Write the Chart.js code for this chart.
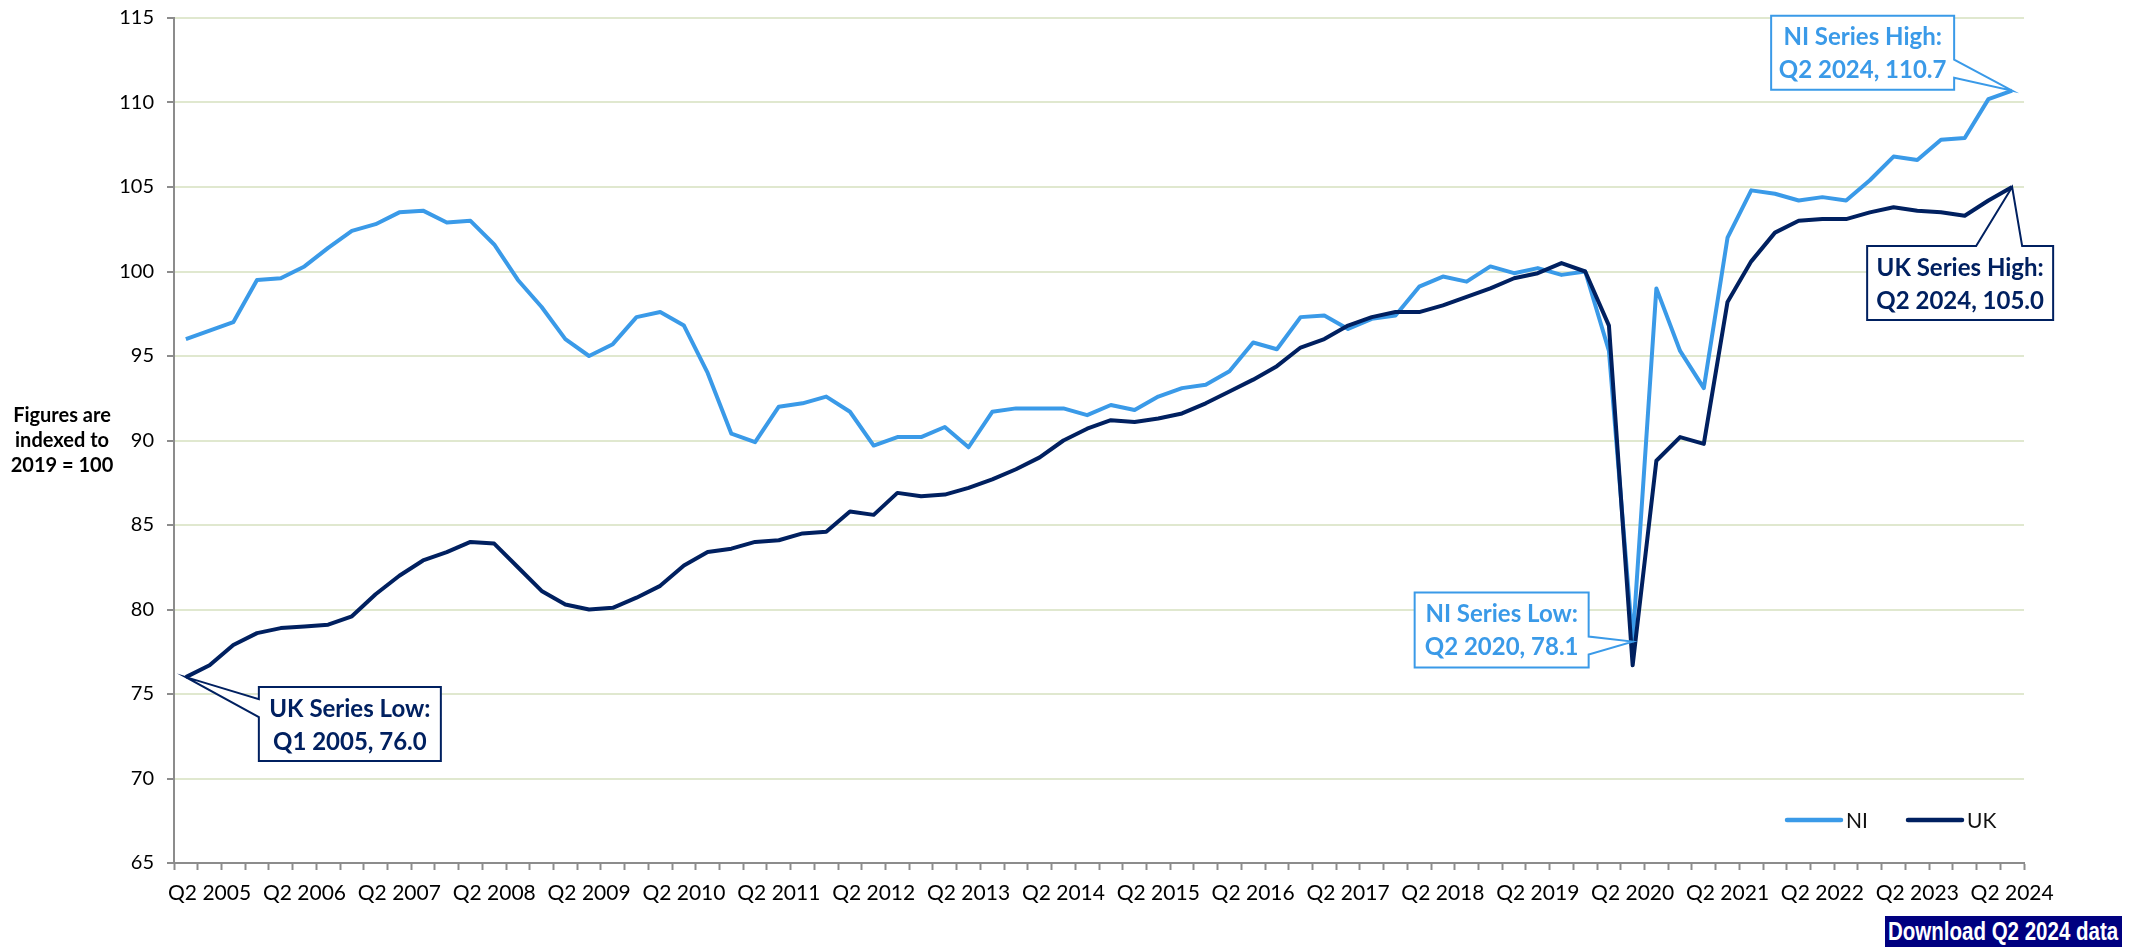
<!DOCTYPE html>
<html>
<head>
<meta charset="utf-8">
<script src="https://cdn.jsdelivr.net/npm/chart.js@4.4.1/dist/chart.umd.min.js"></script>
<style>
    html, body { margin: 0; padding: 0; background: #fff; }
    #wrap { position: relative; width: 2137px; height: 947px; overflow: hidden; }
    #download {
        position: absolute; left: 1885px; top: 916px; width: 237px; height: 31px;
        background: #000080; color: #fff; white-space: nowrap; overflow: hidden;
        font: bold 25px 'Liberation Sans', Arial, sans-serif;
        line-height: 31px;
    }
    #download span {
        display: inline-block; transform: scaleX(0.82); transform-origin: 0 50%;
        margin-left: 3px;
    }
</style>
</head>
<body>
<div id="wrap">
    <canvas id="myChart" width="2137" height="947"></canvas>
    <div id="download"><span>Download Q2 2024 data</span></div>
</div>
<script>
// quarters Q1 2005 .. Q2 2024
const years = [2005, 2006, 2007, 2008, 2009, 2010, 2011, 2012, 2013, 2014,
               2015, 2016, 2017, 2018, 2019, 2020, 2021, 2022, 2023, 2024];
const quarterNames = ['Q1', 'Q2', 'Q3', 'Q4'];

// index, 2019 = 100
const niValues = [
    96.0, 96.5, 97.0, 99.5, 99.6, 100.3, 101.4, 102.4, 102.8, 103.5,
    103.6, 102.9, 103.0, 101.6, 99.5, 97.9, 96.0, 95.0, 95.7, 97.3,
    97.6, 96.8, 94.0, 90.4, 89.9, 92.0, 92.2, 92.6, 91.7, 89.7,
    90.2, 90.2, 90.8, 89.6, 91.7, 91.9, 91.9, 91.9, 91.5, 92.1,
    91.8, 92.6, 93.1, 93.3, 94.1, 95.8, 95.4, 97.3, 97.4, 96.6,
    97.2, 97.4, 99.1, 99.7, 99.4, 100.3, 99.9, 100.2, 99.8, 100.0,
    95.3, 78.1, 99.0, 95.3, 93.1, 102.0, 104.8, 104.6, 104.2, 104.4,
    104.2, 105.4, 106.8, 106.6, 107.8, 107.9, 110.2, 110.7
];
const ukValues = [
    76.0, 76.7, 77.9, 78.6, 78.9, 79.0, 79.1, 79.6, 80.9, 82.0,
    82.9, 83.4, 84.0, 83.9, 82.5, 81.1, 80.3, 80.0, 80.1, 80.7,
    81.4, 82.6, 83.4, 83.6, 84.0, 84.1, 84.5, 84.6, 85.8, 85.6,
    86.9, 86.7, 86.8, 87.2, 87.7, 88.3, 89.0, 90.0, 90.7, 91.2,
    91.1, 91.3, 91.6, 92.2, 92.9, 93.6, 94.4, 95.5, 96.0, 96.8,
    97.3, 97.6, 97.6, 98.0, 98.5, 99.0, 99.6, 99.9, 100.5, 100.0,
    96.8, 76.7, 88.8, 90.2, 89.8, 98.2, 100.6, 102.3, 103.0, 103.1,
    103.1, 103.5, 103.8, 103.6, 103.5, 103.3, 104.2, 105.0
];
const seriesNames = ['NI', 'UK'];
const seriesColors = ['#3a9ae8', '#002060'];
const yTitle = ['Figures are', 'indexed to', '2019 = 100'];

const labels = [];
for (const y of years) {
    for (const q of quarterNames) {
        if (labels.length < niValues.length) labels.push(q + ' ' + y);
    }
}

const FONT = 'Lato, "Open Sans", sans-serif';

// callout boxes: offsets from the marked point, and where the pointer leaves the box
const callouts = [
    { ds: 0, pick: 'max', title: 'NI Series High:', box: [-241, -75, 183, 74], edge: 'right', base: [44, 62] },
    { ds: 1, pick: 'max', title: 'UK Series High:', box: [-145, 59, 186, 74], edge: 'top', base: [109, 155] },
    { ds: 0, pick: 'min', title: 'NI Series Low:', box: [-218, -49, 174, 75], edge: 'right', base: [44, 62] },
    { ds: 1, pick: 'min', title: 'UK Series Low:', box: [73, 10, 182, 74], edge: 'left', base: [12, 30] }
];

const extrasPlugin = {
    id: 'extras',
    afterDatasetsDraw(chart) {
        const ctx = chart.ctx;
        const area = chart.chartArea;
        const xs = chart.scales.x, ys = chart.scales.y;

        // callouts
        for (const c of callouts) {
            const data = chart.data.datasets[c.ds].data;
            const v = c.pick === 'max' ? Math.max(...data) : Math.min(...data);
            const i = data.indexOf(v);
            const tx = xs.getPixelForValue(i), ty = ys.getPixelForValue(v);
            const [dx, dy, w, h] = c.box;
            const x = tx + dx, y = ty + dy;
            const color = seriesColors[c.ds];
            ctx.save();
            ctx.beginPath();
            if (c.edge === 'right') {
                ctx.moveTo(x, y); ctx.lineTo(x + w, y); ctx.lineTo(x + w, y + c.base[0]);
                ctx.lineTo(tx, ty); ctx.lineTo(x + w, y + c.base[1]);
                ctx.lineTo(x + w, y + h); ctx.lineTo(x, y + h);
            } else if (c.edge === 'top') {
                ctx.moveTo(x, y); ctx.lineTo(x + c.base[0], y); ctx.lineTo(tx, ty);
                ctx.lineTo(x + c.base[1], y); ctx.lineTo(x + w, y);
                ctx.lineTo(x + w, y + h); ctx.lineTo(x, y + h);
            } else {
                ctx.moveTo(x, y); ctx.lineTo(x + w, y); ctx.lineTo(x + w, y + h);
                ctx.lineTo(x, y + h); ctx.lineTo(x, y + c.base[1]); ctx.lineTo(tx, ty);
                ctx.lineTo(x, y + c.base[0]);
            }
            ctx.closePath();
            ctx.fillStyle = '#fff';
            ctx.fill();
            ctx.lineWidth = 2;
            ctx.strokeStyle = color;
            ctx.lineJoin = 'miter';
            ctx.stroke();
            ctx.fillStyle = color;
            ctx.font = 'bold 24px ' + FONT;
            ctx.textAlign = 'center';
            ctx.textBaseline = 'middle';
            ctx.fillText(c.title, x + w / 2, y + 22);
            ctx.fillText(labels[i] + ', ' + v.toFixed(1), x + w / 2, y + 55);
            ctx.restore();
        }

        // legend inside the plot, bottom right
        ctx.save();
        const ly = area.bottom - 43;
        const items = [[area.right - 237, area.right - 183], [area.right - 116, area.right - 62]];
        items.forEach((it, k) => {
            ctx.beginPath();
            ctx.moveTo(it[0], ly); ctx.lineTo(it[1], ly);
            ctx.lineWidth = 4.5;
            ctx.lineCap = 'round';
            ctx.strokeStyle = seriesColors[k];
            ctx.stroke();
            ctx.fillStyle = '#111';
            ctx.font = '21px ' + FONT;
            ctx.textAlign = 'left';
            ctx.textBaseline = 'middle';
            ctx.fillText(seriesNames[k], it[1] + 5, ly + 1);
        });

        // y axis note
        ctx.fillStyle = '#000';
        ctx.font = 'bold 20px ' + FONT;
        ctx.textAlign = 'center';
        ctx.textBaseline = 'middle';
        const my = (area.top + area.bottom) / 2;
        yTitle.forEach((t, k) => ctx.fillText(t, 62, my + (k - 1) * 25));
        ctx.restore();
    }
};

const config = {
    type: 'line',
    data: {
        labels: labels,
        datasets: [
            {
                label: seriesNames[0],
                data: niValues,
                borderColor: seriesColors[0],
                backgroundColor: seriesColors[0],
                borderWidth: 4,
                pointRadius: 0,
                borderJoinStyle: 'round',
                tension: 0,
                order: 1
            },
            {
                label: seriesNames[1],
                data: ukValues,
                borderColor: seriesColors[1],
                backgroundColor: seriesColors[1],
                borderWidth: 4,
                pointRadius: 0,
                borderJoinStyle: 'round',
                tension: 0,
                order: 0
            }
        ]
    },
    options: {
        responsive: false,
        animation: false,
        devicePixelRatio: 1,
        layout: { padding: { top: 18, right: 113, bottom: 0, left: 0 } },
        plugins: {
            legend: { display: false },
            tooltip: { enabled: false },
            title: { display: false }
        },
        scales: {
            x: {
                offset: true,
                grid: {
                    display: true,
                    drawOnChartArea: false,
                    drawTicks: true,
                    offset: true,
                    tickLength: 7,
                    tickColor: '#8c8c8c',
                    tickWidth: 2
                },
                border: { display: true, color: '#8c8c8c', width: 2 },
                ticks: {
                    autoSkip: false,
                    maxRotation: 0,
                    minRotation: 0,
                    padding: 11,
                    color: '#000',
                    font: { family: FONT, size: 21 },
                    callback: function(value, index) {
                        return index % 4 === 1 ? this.getLabelForValue(value) : '';
                    }
                },
                afterFit: (scale) => { scale.height = 84; }
            },
            y: {
                min: 65,
                max: 115,
                grid: {
                    color: '#e0e8cf',
                    lineWidth: 2,
                    tickColor: '#8c8c8c',
                    tickLength: 7,
                    tickWidth: 2
                },
                border: { display: true, color: '#8c8c8c', width: 2 },
                ticks: {
                    stepSize: 5,
                    padding: 13,
                    color: '#000',
                    font: { family: FONT, size: 20 }
                },
                afterFit: (scale) => {
                    scale.width = 174;
                    scale.paddingTop = 0;
                    scale.paddingBottom = 0;
                }
            }
        }
    },
    plugins: [extrasPlugin]
};

new Chart(document.getElementById('myChart'), config);
</script>
</body>
</html>
